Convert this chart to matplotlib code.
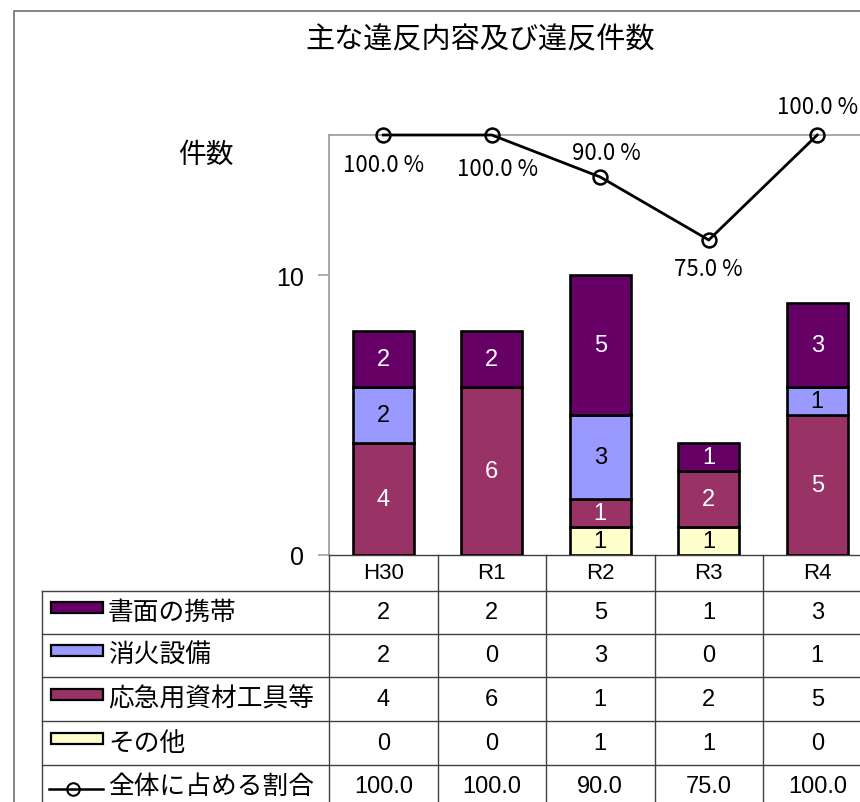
import numpy as np
import matplotlib
matplotlib.use("Agg")
import matplotlib.pyplot as plt
from matplotlib.transforms import blended_transform_factory
from matplotlib.patches import Rectangle
from matplotlib.lines import Line2D

plt.rcParams['font.family'] = ['Noto Sans CJK JP', 'DejaVu Sans']

# データ
categories = ["H30", "R1", "R2", "R3", "R4"]
series_names = ["書面の携帯", "消火設備", "応急用資材工具等", "その他"]
shomen   = [2, 2, 5, 1, 3]
shoka    = [2, 0, 3, 0, 1]
oukyu    = [4, 6, 1, 2, 5]
sonota   = [0, 0, 1, 1, 0]
ratio    = [100.0, 100.0, 90.0, 75.0, 100.0]
ratio_name = "全体に占める割合"

colors = {"書面の携帯": "#660066", "消火設備": "#9999FF",
          "応急用資材工具等": "#993366", "その他": "#FFFFCC"}
txtcol = {"書面の携帯": "white", "消火設備": "black",
          "応急用資材工具等": "white", "その他": "black"}

W, H = 860, 803
num_font = ['Liberation Sans', 'DejaVu Sans']

fig = plt.figure(figsize=(W/100, H/100), dpi=100)

def fx(px):
    return px / W

def fy(py):
    return 1 - py / H

# 棒グラフ部分
x0, x1, ytop, ybot = 329, 871.5, 136, 556
ax = fig.add_axes([fx(x0), fy(ybot), fx(x1 - x0), (ybot - ytop) / H])
x = np.arange(len(categories))
stack_order = [("その他", sonota), ("応急用資材工具等", oukyu),
               ("消火設備", shoka), ("書面の携帯", shomen)]
bottom = np.zeros(len(categories))
for name, vals in stack_order:
    vals = np.array(vals, dtype=float)
    ax.bar(x, vals, 0.56, bottom=bottom, color=colors[name],
           edgecolor="black", linewidth=1.9, zorder=3)
    for xi, b, v in zip(x, bottom, vals):
        if v > 0:
            ax.text(xi, b + v / 2, f"{int(v)}", ha="center", va="center",
                    color=txtcol[name], fontsize=17, family=num_font, zorder=4)
    bottom += vals

ax.set_xlim(-0.5, len(categories) - 0.5)
ax.set_ylim(0, 15)
ax.set_yticks([0, 10])
ax.set_xticks([])
ax.tick_params(axis="y", direction="out", length=8, color="#a0a0a0",
               width=1.2, labelsize=18, pad=10)
for lab in ax.get_yticklabels():
    lab.set_family(num_font)
for s in ["left", "top", "right"]:
    ax.spines[s].set_color("#a0a0a0")
    ax.spines[s].set_linewidth(1.3)
ax.spines["bottom"].set_color("#404040")
ax.spines["bottom"].set_linewidth(1.0)
ax.patch.set_alpha(0)

# 割合（折れ線）
ax2 = ax.twinx()
ax2.set_ylim(0, 100)
ax2.set_yticks([])
for s in ax2.spines.values():
    s.set_visible(False)
ax2.plot(x, ratio, color="black", linewidth=2.0, marker="o", markersize=10,
         markerfacecolor="none", markeredgewidth=1.8, clip_on=False, zorder=5)
label_off = [(0, -29), (6, -34), (6, 25), (0, -29), (0, 29)]
for xi, r, (dx, dy) in zip(x, ratio, label_off):
    ax2.annotate(f"{r:.1f} %", (xi, r), xytext=(dx * 0.72, dy * 0.72),
                 textcoords="offset points", ha="center", va="center",
                 fontsize=16, family=['Noto Sans CJK JP'], annotation_clip=False)

# 表・枠
tb = fig.add_axes([0, 0, 1, 1], zorder=-1)
tb.set_xlim(0, W)
tb.set_ylim(H, 0)
tb.axis("off")
tb.plot([14, 14, W], [H, 12, 12], color="#707070", linewidth=1.2)

tr = blended_transform_factory(ax.transData, tb.transData)
row_lines = [592, 635, 678, 722, 766]
row_centers = [574, 613, 656, 700, 744, 787]
for yl in row_lines:
    tb.plot([42, W], [yl, yl], color="#404040", linewidth=1.0)
tb.plot([42, 42], [row_lines[0], H], color="#404040", linewidth=1.0)
for k in range(len(categories) + 1):
    tb.add_line(Line2D([k - 0.5, k - 0.5], [ybot, H], transform=tr,
                       color="#404040", linewidth=1.0))

for xi, c in zip(x, categories):
    tb.text(xi, row_centers[0], c, transform=tr, ha="center", va="center",
            fontsize=16, family=num_font)

table_rows = [("書面の携帯", shomen), ("消火設備", shoka),
              ("応急用資材工具等", oukyu), ("その他", sonota)]
for (name, vals), yc in zip(table_rows, row_centers[1:5]):
    tb.add_patch(Rectangle((51, yc - 10), 52, 11, facecolor=colors[name],
                           edgecolor="black", linewidth=1.6))
    tb.text(108, yc, name, ha="left", va="center", fontsize=18.5)
    for xi, v in zip(x, vals):
        tb.text(xi, yc, f"{v}", transform=tr, ha="center", va="center",
                fontsize=17, family=num_font)

yc = row_centers[5]
tb.plot([49, 103], [yc + 3, yc + 3], color="black", linewidth=1.8)
tb.plot([73], [yc + 3], marker="o", markersize=9, markerfacecolor="none",
        markeredgecolor="black", markeredgewidth=1.5)
tb.text(108, yc, ratio_name, ha="left", va="center", fontsize=18.5)
for xi, r in zip(x, ratio):
    tb.text(xi, yc, f"{r:.1f}", transform=tr, ha="center", va="center",
            fontsize=17, family=num_font)

fig.text(fx(480), fy(40), "主な違反内容及び違反件数", ha="center", va="center",
         fontsize=21)
fig.text(fx(206), fy(155), "件数", ha="center", va="center", fontsize=20)

fig.savefig("out.png", dpi=100)
